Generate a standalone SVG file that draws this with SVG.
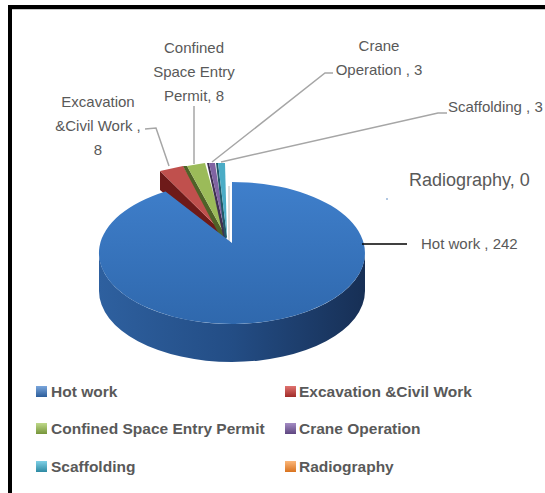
<svg xmlns="http://www.w3.org/2000/svg" width="545" height="493" viewBox="0 0 545 493">
<defs>
<linearGradient id="topFace" x1="0" y1="0" x2="0" y2="1">
<stop offset="0" stop-color="#3f7fcb"/>
<stop offset="1" stop-color="#2f68ad"/>
</linearGradient>
<linearGradient id="sideFace" x1="0" y1="0" x2="1" y2="0">
<stop offset="0" stop-color="#2e609f"/>
<stop offset="0.5" stop-color="#234d85"/>
<stop offset="1" stop-color="#172f55"/>
</linearGradient>
<linearGradient id="lgBlue" x1="0" y1="0" x2="0" y2="1"><stop offset="0" stop-color="#7aa6dc"/><stop offset="1" stop-color="#2c5d9a"/></linearGradient>
<linearGradient id="lgRed" x1="0" y1="0" x2="0" y2="1"><stop offset="0" stop-color="#e07370"/><stop offset="1" stop-color="#a02b28"/></linearGradient>
<linearGradient id="lgGreen" x1="0" y1="0" x2="0" y2="1"><stop offset="0" stop-color="#bfd98a"/><stop offset="1" stop-color="#76953a"/></linearGradient>
<linearGradient id="lgPurple" x1="0" y1="0" x2="0" y2="1"><stop offset="0" stop-color="#a48cc4"/><stop offset="1" stop-color="#5e4680"/></linearGradient>
<linearGradient id="lgCyan" x1="0" y1="0" x2="0" y2="1"><stop offset="0" stop-color="#7fd0e6"/><stop offset="1" stop-color="#2d8aa3"/></linearGradient>
<linearGradient id="lgOrange" x1="0" y1="0" x2="0" y2="1"><stop offset="0" stop-color="#fbb77a"/><stop offset="1" stop-color="#d9731f"/></linearGradient>
</defs>
<style>
.lbl{font-family:"Liberation Sans",Arial,sans-serif;font-size:15px;fill:#595959}
.big{font-family:"Liberation Sans",Arial,sans-serif;font-size:18px;fill:#595959}
.leg{font-family:"Liberation Sans",Arial,sans-serif;font-size:15.5px;font-weight:bold;fill:#595959}
.lead{fill:none;stroke:#a6a6a6;stroke-width:1.5}
</style>
<rect x="0" y="0" width="545" height="493" fill="#ffffff"/>
<g id="frame">
<rect x="8" y="5" width="537" height="4" fill="#000"/>
<rect x="8" y="5" width="4" height="488" fill="#000"/>
<line x1="12" y1="9.5" x2="545" y2="9.5" stroke="#c8c8c8" stroke-width="1"/>
</g>
<g id="slice-excavation">
<polygon points="160,171 223,233 220,241 160,190" fill="#6e1a19"/>
<polygon points="160,171 183,166 223,233" fill="#c0504d"/>
</g>
<g id="slice-confined">
<polygon points="183,166 187,166 225,235 222,240" fill="#4f6228"/>
<polygon points="187,166 205,163 225,235" fill="#9bbb59"/>
</g>
<g id="slice-crane">
<polygon points="207,163 209,163 226,236 224,240" fill="#3f3151"/>
<polygon points="209,163 215,163 226,236" fill="#8064a2"/>
</g>
<g id="slice-scaffolding">
<polygon points="216,163 218,163 227,237 225,241" fill="#215968"/>
<polygon points="218,163 225,163 227,237" fill="#4bacc6"/>
</g>
<g id="slice-radiography">
<line x1="229" y1="186" x2="229" y2="242" stroke="#d0d0d0" stroke-width="1.5"/>
</g>
<g id="slice-hotwork">
<path d="M99,253 A133,71 0 0 0 365,253 L365,291 A133,71 0 0 1 99,291 Z" fill="url(#sideFace)"/>
<path d="M232,243 L232,182 A133,71 0 1 1 165.5,191.5 Z" fill="url(#topFace)"/>
</g>
<g id="connectors">
<polyline class="lead" points="145,129 156,128 169,166"/>
<polyline class="lead" points="194,106 194,164"/>
<polyline class="lead" points="333,73 325,73 212,162"/>
<polyline class="lead" points="447,113 438,113 221,162"/>
<line x1="362" y1="244" x2="407" y2="244" stroke="#000" stroke-width="1.5"/>
<circle cx="387" cy="199" r="0.8" fill="#4f81bd"/>
</g>
<g id="labels">
<text class="lbl" x="98" y="107" text-anchor="middle">Excavation</text>
<text class="lbl" x="98" y="131" text-anchor="middle">&amp;Civil Work ,</text>
<text class="lbl" x="98" y="155" text-anchor="middle">8</text>
<text class="lbl" x="194" y="53" text-anchor="middle">Confined</text>
<text class="lbl" x="194" y="77" text-anchor="middle">Space Entry</text>
<text class="lbl" x="194" y="101" text-anchor="middle">Permit, 8</text>
<text class="lbl" x="379" y="51" text-anchor="middle">Crane</text>
<text class="lbl" x="379" y="75" text-anchor="middle">Operation , 3</text>
<text class="lbl" x="448" y="112">Scaffolding , 3</text>
<text class="big" x="409" y="186">Radiography, 0</text>
<text class="lbl" x="421" y="249">Hot work , 242</text>
</g>
<g id="legend">
<rect x="36" y="386" width="11" height="11" fill="url(#lgBlue)"/>
<text class="leg" x="51" y="397">Hot work</text>
<rect x="285" y="386" width="11" height="11" fill="url(#lgRed)"/>
<text class="leg" x="299" y="397">Excavation &amp;Civil Work</text>
<rect x="36" y="423" width="11" height="11" fill="url(#lgGreen)"/>
<text class="leg" x="51" y="434">Confined Space Entry Permit</text>
<rect x="285" y="423" width="11" height="11" fill="url(#lgPurple)"/>
<text class="leg" x="299" y="434">Crane Operation</text>
<rect x="36" y="461" width="11" height="11" fill="url(#lgCyan)"/>
<text class="leg" x="51" y="472">Scaffolding</text>
<rect x="285" y="461" width="11" height="11" fill="url(#lgOrange)"/>
<text class="leg" x="299" y="472">Radiography</text>
</g>
</svg>
